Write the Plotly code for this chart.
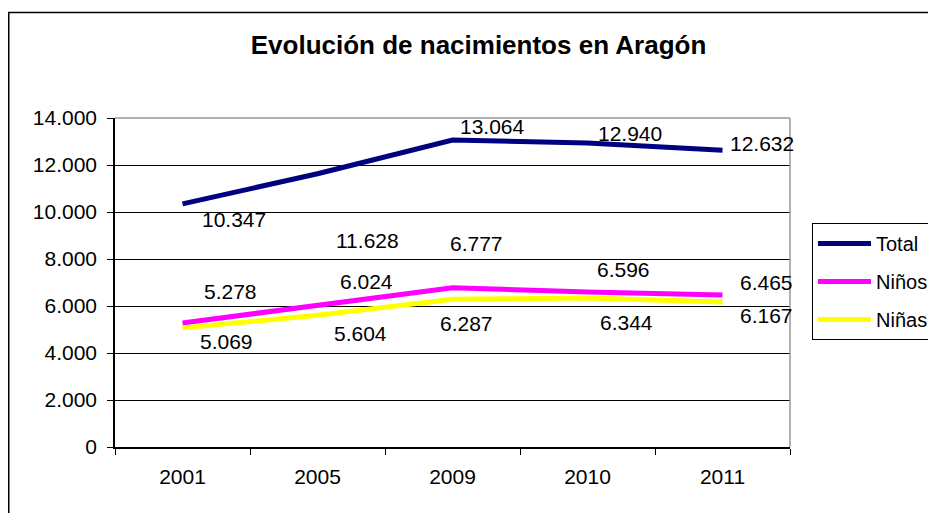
import plotly.graph_objects as go

years = ["2001", "2005", "2009", "2010", "2011"]
total = [10347, 11628, 13064, 12940, 12632]
ninos = [5278, 6024, 6777, 6596, 6465]
ninas = [5069, 5604, 6287, 6344, 6167]
y_ticks = [0, 2000, 4000, 6000, 8000, 10000, 12000, 14000]
y_tick_labels = ["0", "2.000", "4.000", "6.000", "8.000", "10.000", "12.000", "14.000"]

# label pixel offsets (dx, dy) relative to each point, as placed in the original
total_off = [(51, 16), (50, 67), (40, -14), (42, -9), (39, -7)]
ninos_off = [(48, -31), (49, -24), (24, -44), (36, -22), (44, -13)]
ninas_off = [(44, 14), (43, 18), (14, 24), (39, 25), (44, 13)]

FONT = "Liberation Sans, Arial, sans-serif"
OFF = 0  # page body margin removed via post_script
W, H = 928, 513
L, R, T, B = 115 - OFF, 790 - OFF, 118 - OFF, 447 - OFF
PW, PH = R - L, B - T


def px_x(p):
    return (p - OFF - L) / PW


def px_y(p):
    return (B - (p - OFF)) / PH


def fmt(v):
    return f"{v:,}".replace(",", ".")


fig = go.Figure()
series = [("Total", total, "#000080", total_off),
          ("Niños", ninos, "#FF00FF", ninos_off),
          ("Niñas", ninas, "#FFFF00", ninas_off)]
for name, vals, col, _ in series:
    fig.add_trace(go.Scatter(x=years, y=vals, name=name, mode="lines",
                             line=dict(color=col, width=5),
                             legendgroup=name))

annotations = []
for name, vals, col, offs in series:
    for i, (v, (dx, dy)) in enumerate(zip(vals, offs)):
        annotations.append(dict(x=i, y=v, xref="x", yref="y", text=fmt(v),
                                showarrow=False, xshift=dx, yshift=-dy,
                                font=dict(family=FONT, size=21, color="black")))

shapes = [
    # outer chart border
    dict(type="rect", xref="paper", yref="paper",
         x0=px_x(8.75), x1=1.4, y0=-0.4, y1=px_y(12.5),
         line=dict(color="black", width=1.5), layer="below"),
    # plot area gray top & right
    dict(type="line", xref="paper", yref="paper", x0=0, x1=1, y0=1, y1=1,
         line=dict(color="#999999", width=1.5), layer="above"),
    dict(type="line", xref="paper", yref="paper", x0=1, x1=1, y0=0, y1=1,
         line=dict(color="#999999", width=1.5), layer="above"),
]

fig.update_layout(
    width=W, height=H,
    margin=dict(l=L, r=W - R, t=T, b=H - B, pad=0, autoexpand=False),
    paper_bgcolor="white", plot_bgcolor="white",
    font=dict(family=FONT, size=21, color="black"),
    title=dict(text="<b>Evolución de nacimientos en Aragón</b>",
               x=px_x(478.5), xref="paper", xanchor="center",
               y=1 - (45 - OFF) / H, yref="container", yanchor="middle",
               font=dict(family=FONT, size=26, color="black")),
    xaxis=dict(type="category", range=[-0.5, 4.5], tickson="boundaries",
               ticks="outside", ticklen=6, tickcolor="black", showline=True,
               linecolor="black", linewidth=1.5, showgrid=False,
               zeroline=False, tickangle=0, automargin=False,
               ticklabelstandoff=10, tickfont=dict(size=21)),
    yaxis=dict(range=[0, 14000], tickvals=y_ticks, ticktext=y_tick_labels,
               ticks="outside", ticklen=6, tickcolor="black", showline=True,
               linecolor="black", linewidth=1.5, showgrid=True,
               gridcolor="black", gridwidth=1, zeroline=False,
               automargin=False, ticklabelstandoff=6, tickfont=dict(size=21)),
    legend=dict(x=px_x(812), xanchor="left",
                y=px_y(223), yanchor="top",
                bordercolor="black", borderwidth=1, bgcolor="white",
                font=dict(family=FONT, size=20, color="black"),
                traceorder="grouped", tracegroupgap=9, itemwidth=53),
    annotations=annotations,
    shapes=shapes,
    showlegend=True,
)

fig.write_html(
    "out.html",
    config={"displayModeBar": False},
    post_script="document.body.style.margin='0';"
                "document.body.style.overflow='hidden';",
)
